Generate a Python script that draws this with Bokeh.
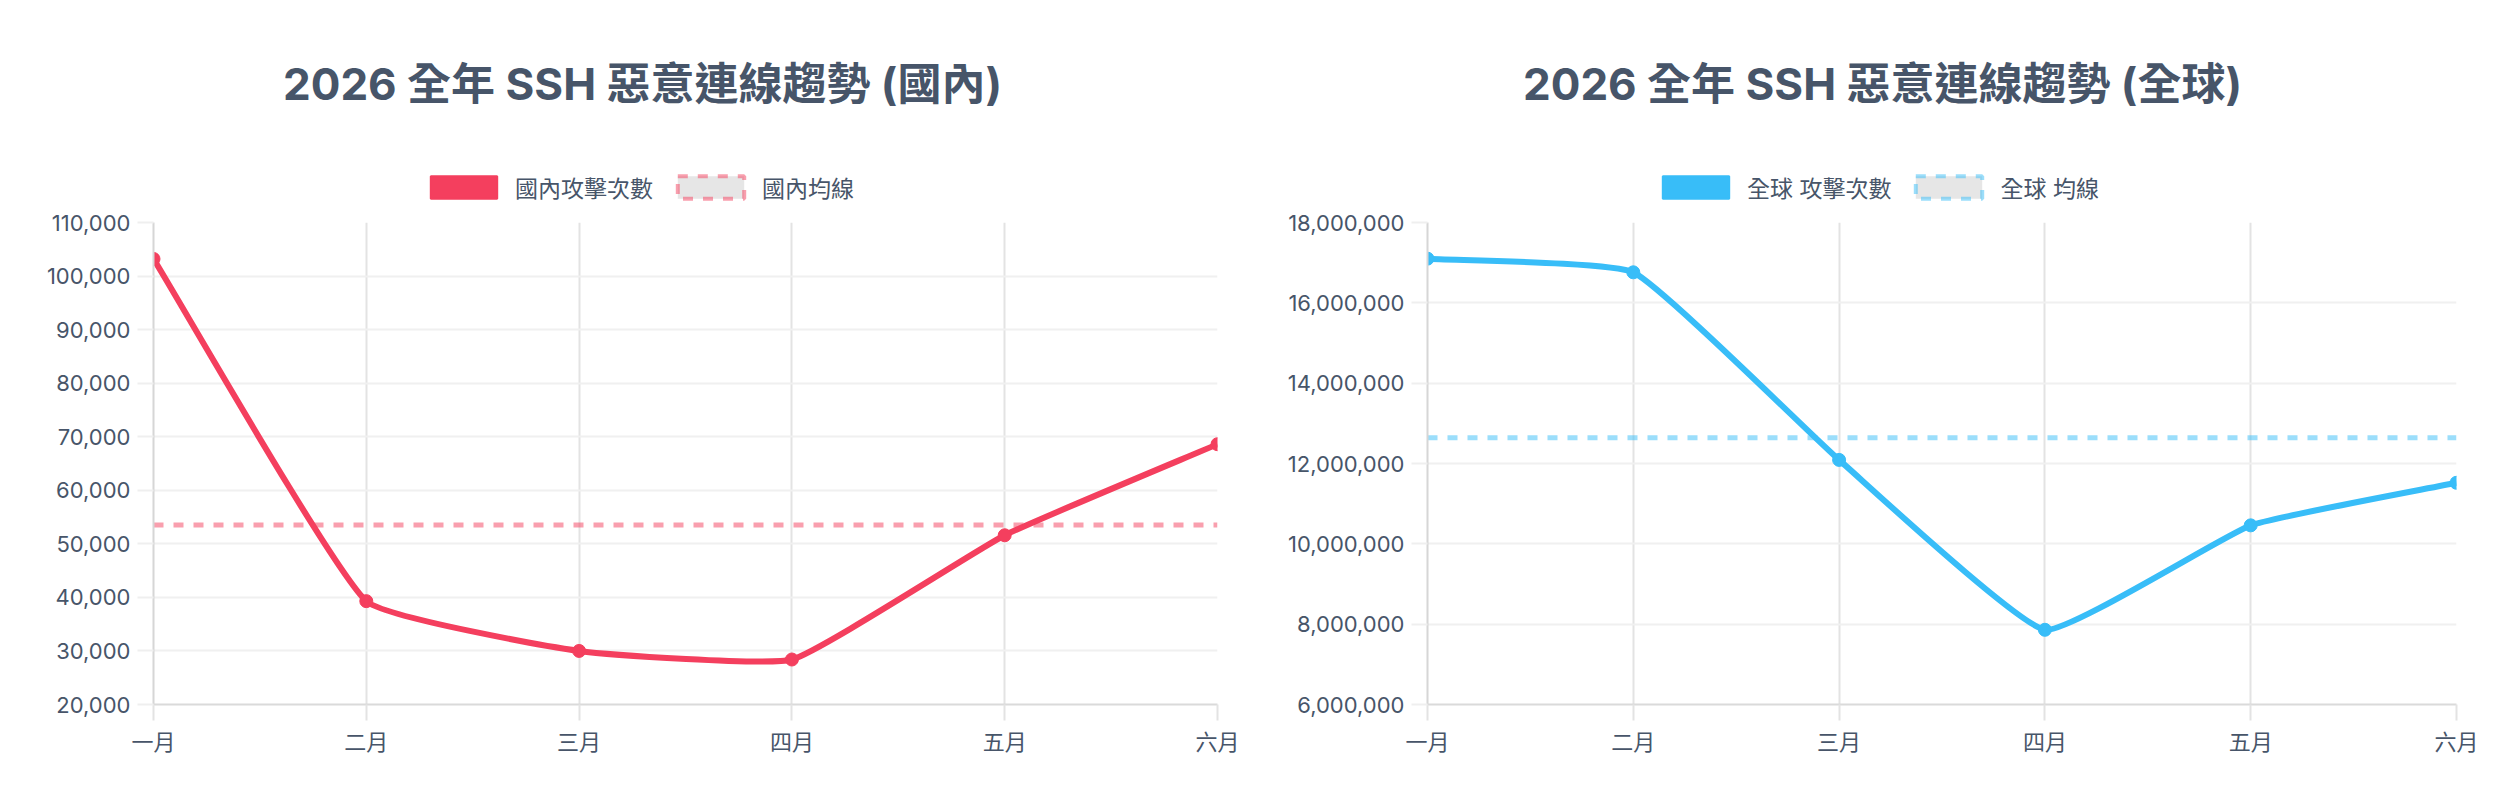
import math
from bokeh.plotting import figure
from bokeh.models import (Range1d, FixedTicker, NumeralTickFormatter, Legend,
                          LegendItem, Label)
from bokeh.layouts import row, column
from bokeh.embed import file_html
from bokeh.resources import INLINE

# ---------------- data ----------------
MONTHS = ["一月", "二月", "三月", "四月", "五月", "六月"]
MONTH_POS = [0, 1, 2, 3, 4, 5]

DOMESTIC = [103200, 39300, 30000, 28400, 51600, 68600]
DOMESTIC_AVG = 53500
DOMESTIC_TICKS = [20000, 30000, 40000, 50000, 60000, 70000, 80000, 90000, 100000, 110000]

GLOBAL = [17100000, 16760000, 12090000, 7860000, 10460000, 11520000]
GLOBAL_AVG = 12640000
GLOBAL_TICKS = [6000000, 8000000, 10000000, 12000000, 14000000, 16000000, 18000000]

TITLE_DOMESTIC = "2026 全年 SSH 惡意連線趨勢 (國內)"
TITLE_GLOBAL = "2026 全年 SSH 惡意連線趨勢 (全球)"
LEGEND_DOMESTIC = ["國內攻擊次數", "國內均線"]
LEGEND_GLOBAL = ["全球 攻擊次數", "全球 均線"]

FONT = "Inter, 'Noto Sans CJK TC', 'Noto Sans'"
TEXT_COLOR = "#475569"
HEADER_H = 206
FRAME_H = 482
BOTTOM_B = 80
TOP_B = 16
CHART_H = TOP_B + FRAME_H + BOTTOM_B
TENSION = 0.12
NAN = float("nan")


def spline_segments(xs, ys, xr, yr, fw, fh, tension):
    """Chart.js style spline (computed in screen space) -> bezier segments in data space."""
    sx = [(x - xr[0]) / (xr[1] - xr[0]) * fw for x in xs]
    sy = [(y - yr[0]) / (yr[1] - yr[0]) * fh for y in ys]
    n = len(xs)
    prev_cp, next_cp = [], []
    for i in range(n):
        a = max(i - 1, 0)
        b = min(i + 1, n - 1)
        d01 = math.hypot(sx[i] - sx[a], sy[i] - sy[a])
        d12 = math.hypot(sx[b] - sx[i], sy[b] - sy[i])
        tot = d01 + d12
        s01 = d01 / tot if tot else 0.0
        s12 = d12 / tot if tot else 0.0
        fa = tension * s01
        fb = tension * s12
        dx = sx[b] - sx[a]
        dy = sy[b] - sy[a]
        prev_cp.append((sx[i] - fa * dx, sy[i] - fa * dy))
        next_cp.append((sx[i] + fb * dx, sy[i] + fb * dy))

    def to_data(pt):
        return (xr[0] + pt[0] / fw * (xr[1] - xr[0]),
                yr[0] + pt[1] / fh * (yr[1] - yr[0]))

    seg = dict(x0=[], y0=[], x1=[], y1=[], cx0=[], cy0=[], cx1=[], cy1=[])
    for i in range(n - 1):
        c0 = to_data(next_cp[i])
        c1 = to_data(prev_cp[i + 1])
        seg["x0"].append(xs[i]); seg["y0"].append(ys[i])
        seg["x1"].append(xs[i + 1]); seg["y1"].append(ys[i + 1])
        seg["cx0"].append(c0[0]); seg["cy0"].append(c0[1])
        seg["cx1"].append(c1[0]); seg["cy1"].append(c1[1])
    return seg


def make_header(width, title, legend_labels, color, title_x, legend_x):
    """Header strip; its frame is aligned with the chart frame below it."""
    h = figure(width=width, height=HEADER_H, output_backend="svg",
               toolbar_location=None, title=None, x_axis_type=None, y_axis_type=None,
               x_range=Range1d(0, 1), y_range=Range1d(0, 1), min_border=0)
    h.outline_line_color = None
    h.background_fill_color = "white"
    h.border_fill_color = "white"
    h.grid.visible = False

    # legend swatches: one undrawn (NaN) item each, only their visuals are used
    sw1 = h.quad(left=[NAN], right=[NAN], top=[NAN], bottom=[NAN], fill_color=color,
                 line_color=color, line_width=2)
    sw2 = h.quad(left=[NAN], right=[NAN], top=[NAN], bottom=[NAN], fill_color="#e6e6e6",
                 line_color=color, line_alpha=0.5, line_width=4, line_dash="10 10")
    legend = Legend(items=[LegendItem(label=legend_labels[0], renderers=[sw1]),
                           LegendItem(label=legend_labels[1], renderers=[sw2])],
                    orientation="horizontal", location=(legend_x, 2))
    legend.background_fill_alpha = 0
    legend.border_line_color = None
    legend.padding = 0
    legend.margin = 0
    legend.spacing = 16
    legend.label_standoff = 10
    legend.glyph_width = 83
    legend.glyph_height = 28
    legend.label_height = 28
    legend.label_text_font = FONT
    legend.label_text_font_size = "23px"
    legend.label_text_color = TEXT_COLOR
    legend.label_text_baseline = "middle"
    h.add_layout(legend)

    t = Label(x=title_x, y=123, x_units="screen", y_units="screen", text=title,
              text_align="center", text_baseline="middle", text_font=FONT,
              text_font_size="44px", text_font_style="bold", text_color=TEXT_COLOR)
    h.add_layout(t)
    return h


def make_chart(values, avg, ticks, color, width, border_left, border_right):
    frame_w = width - border_left - border_right
    xr = (MONTH_POS[0], MONTH_POS[-1])
    yr = (ticks[0], ticks[-1])
    p = figure(width=width, height=CHART_H, output_backend="svg", toolbar_location=None,
               title=None,
               x_range=Range1d(*xr), y_range=Range1d(*yr),
               min_border_left=border_left, min_border_right=border_right,
               min_border_top=TOP_B, min_border_bottom=BOTTOM_B)
    p.outline_line_color = None
    p.background_fill_color = "white"
    p.border_fill_color = "white"

    # axes
    p.xaxis.ticker = FixedTicker(ticks=MONTH_POS)
    p.xaxis.major_label_overrides = {i: m for i, m in zip(MONTH_POS, MONTHS)}
    p.yaxis.ticker = FixedTicker(ticks=ticks)
    p.yaxis.formatter = NumeralTickFormatter(format="0,0")
    for ax in (p.xaxis, p.yaxis):
        ax.major_label_text_font = FONT
        ax.major_label_text_font_size = "22px"
        ax.major_label_text_color = TEXT_COLOR
        ax.minor_tick_line_color = None
        ax.major_tick_in = 0
        ax.major_tick_out = 16
        ax.major_tick_line_width = 2
        ax.axis_line_width = 2
    p.xaxis.axis_line_color = "#dadada"
    p.xaxis.major_tick_line_color = "#e3e3e3"
    p.xaxis.major_label_standoff = 8
    p.yaxis.axis_line_color = "#d6d6d6"
    p.yaxis.major_tick_line_color = "#efefef"
    p.yaxis.major_label_standoff = 7

    p.xgrid.ticker = FixedTicker(ticks=MONTH_POS)
    p.xgrid.grid_line_color = "#e3e3e3"
    p.xgrid.grid_line_width = 2
    p.ygrid.ticker = FixedTicker(ticks=ticks)
    p.ygrid.grid_line_color = "#f0f0f0"
    p.ygrid.grid_line_width = 2

    # average line
    p.line(x=[MONTH_POS[0], MONTH_POS[-1]], y=[avg, avg], line_color=color,
           line_alpha=0.5, line_width=5, line_dash="10 10")

    # smooth series
    seg = spline_segments(MONTH_POS, values, xr, yr, frame_w, FRAME_H, TENSION)
    p.bezier(x0="x0", y0="y0", x1="x1", y1="y1", cx0="cx0", cy0="cy0",
             cx1="cx1", cy1="cy1", source=seg, line_color=color, line_width=6)
    p.scatter(x=MONTH_POS, y=values, size=13, fill_color=color, line_color=color)
    return p


# left column 0..1276 (frame 153..1217), right column 1276..2488 (frame 1427..2456)
h1 = make_header(1276, TITLE_DOMESTIC, LEGEND_DOMESTIC, "#F43F5E", 489, 269)
p1 = make_chart(DOMESTIC, DOMESTIC_AVG, DOMESTIC_TICKS, "#F43F5E", 1276, 153, 59)
h2 = make_header(1212, TITLE_GLOBAL, LEGEND_GLOBAL, "#38BDF8", 455, 227)
p2 = make_chart(GLOBAL, GLOBAL_AVG, GLOBAL_TICKS, "#38BDF8", 1212, 151, 32)

layout = row(column(h1, p1), column(h2, p2))
open("out.html", "w").write(file_html(layout, INLINE))
